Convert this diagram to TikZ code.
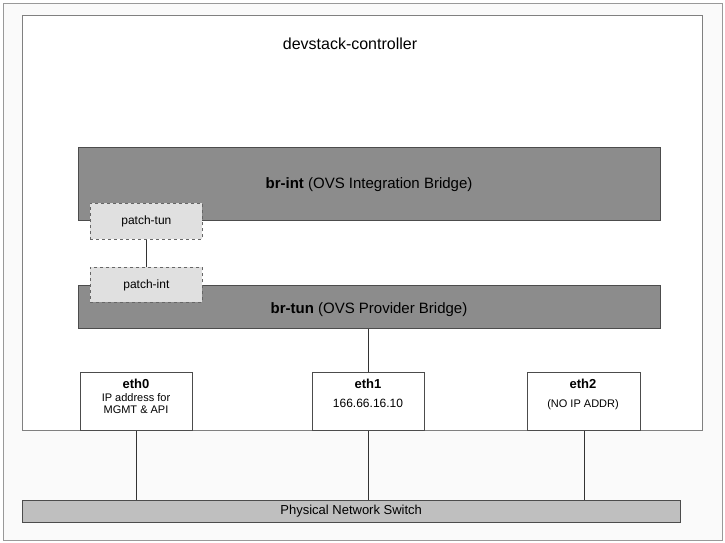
\documentclass[tikz,border=0pt]{standalone}
\usepackage{fontspec}
\setmainfont{Liberation Sans}
\begin{document}
\begin{tikzpicture}[x=1pt,y=-1pt,
 bridge/.style={draw=black!70,fill=black!45,line width=0.8pt},
 patch/.style={draw=black!60,dashed,fill=black!12,line width=0.8pt,font=\fontsize{12}{14}\selectfont},
 eth/.style={draw=black!70,fill=white,line width=0.8pt},
 wire/.style={black!80,line width=0.8pt}]
\useasboundingbox (0,0) rectangle (725,543);
\draw[black!40,fill=black!2] (3,3) rectangle (722,540);
\draw[black!50,fill=white] (22,15) rectangle (702,430);
\node[font=\fontsize{16}{19}\selectfont] (title) at (350,44) {devstack-controller};
\node[bridge,minimum width=582pt,minimum height=73pt,anchor=north west] (brint) at (78,147) {};
\node[font=\fontsize{15}{18}\selectfont] at (369,185) {\textbf{br-int} (OVS Integration Bridge)};
\node[bridge,minimum width=582pt,minimum height=43pt,anchor=north west] (brtun) at (78,285) {};
\node[font=\fontsize{15}{18}\selectfont] at (369,310) {\textbf{br-tun} (OVS Provider Bridge)};
\node[patch,minimum width=112pt,minimum height=36pt,anchor=north west] (ptun) at (90,203) {patch-tun};
\node[patch,minimum width=112pt,minimum height=35pt,anchor=north west] (pint) at (90,267) {patch-int};
\draw[wire] (ptun) -- (pint);
\node[eth,minimum width=112pt,minimum height=58pt,anchor=north west] (eth0) at (80,372) {};
\node[align=center,font=\fontsize{11}{12.5}\selectfont,anchor=north] at (136,376) {\fontsize{13}{15}\selectfont\textbf{eth0}\\IP address for\\MGMT \& API};
\node[eth,minimum width=112pt,minimum height=58pt,anchor=north west] (eth1) at (312,372) {};
\node[align=center,anchor=north,font=\fontsize{13}{15}\selectfont] at (368,376) {\textbf{eth1}\\[4pt]\fontsize{12}{14}\selectfont 166.66.16.10};
\node[eth,minimum width=113pt,minimum height=58pt,anchor=north west] (eth2) at (527,372) {};
\node[align=center,anchor=north,font=\fontsize{13}{15}\selectfont] at (583,376) {\textbf{eth2}\\[4pt]\fontsize{11}{13}\selectfont (NO IP ADDR)};
\draw[wire] (brtun.south -| eth1.north) -- (eth1.north);
\node[draw=black!70,fill=black!25,minimum width=658pt,minimum height=22pt,anchor=north west,font=\fontsize{13}{15}\selectfont] (sw) at (22,500) {Physical Network Switch};
\draw[wire] (eth0.south) -- (eth0.south |- sw.north);
\draw[wire] (eth1.south) -- (eth1.south |- sw.north);
\draw[wire] (eth2.south) -- (eth2.south |- sw.north);
\end{tikzpicture}
\end{document}
